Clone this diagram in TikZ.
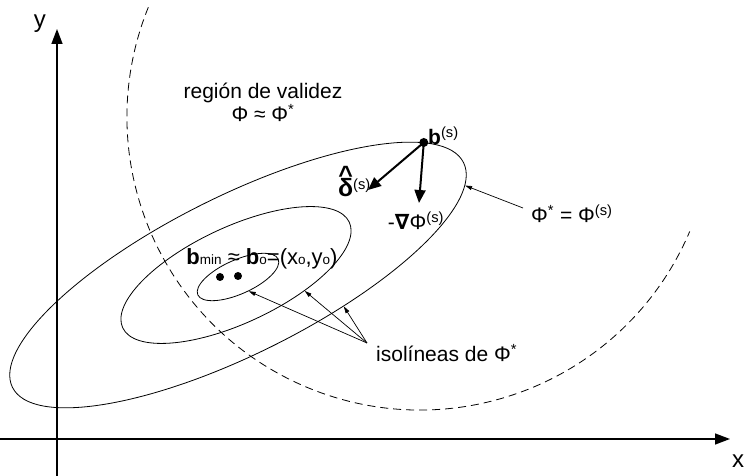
\documentclass[tikz,border=0pt]{standalone}
\usepackage{fontspec}
\setmainfont{Liberation Sans}
\newfontfamily\symfont{DejaVu Sans}
\usetikzlibrary{arrows.meta,shapes.geometric}

\tikzset{
  lbl/.style={font=\fontsize{21}{25}\selectfont, inner sep=0pt},
  axis/.style={line width=1.4pt, -{Triangle[length=15pt,width=11pt]}},
  isoline/.style={draw, ellipse, inner sep=0pt, line width=0.8pt},
  dot/.style={circle, fill, inner sep=0pt, minimum size=8pt},
  vec/.style={line width=2pt, -{Triangle[length=13pt,width=11pt]}},
  pointer/.style={line width=0.7pt, -{Triangle[length=7pt,width=4pt]}},
}
\newcommand{\sups}[1]{\textsuperscript{#1}}
\newcommand{\subo}[1]{{\fontsize{13.5}{14}\selectfont #1}}

\begin{document}
\begin{tikzpicture}[x=1pt,y=1pt]
\useasboundingbox (0,0) rectangle (745,476);
% ejes
\coordinate (y0) at (57,0); \coordinate (y1) at (57,447);
\coordinate (x0) at (0,37); \coordinate (x1) at (730,37);
\draw[axis] (y0) -- (y1);
\draw[axis] (x0) -- (x1);
\node[lbl, font=\fontsize{24}{28}\selectfont] (ylab) at (40,452) {y};
\node[lbl, font=\fontsize{24}{28}\selectfont] (xlab) at (738,15) {x};
% region de validez
\draw[dashed, dash pattern=on 8pt off 5pt, line width=0.8pt] (420,359) ++(158:293) arc[start angle=158, end angle=337, radius=293];
\node[lbl, anchor=base] (reg1) at (263,377) {región de validez};
\node[lbl, anchor=base] (reg2) at (263,354) {Φ ≈ Φ\sups{*}};
% isolineas
\node[isoline, minimum width=504pt, minimum height=158pt, rotate=26.5] (outer) at (238,201) {};
\node[isoline, minimum width=250pt, minimum height=96pt, rotate=25] (middle) at (236,201) {};
\node[isoline, minimum width=88pt, minimum height=34pt, rotate=24] (inner) at (238,199) {};
\node[dot] (bmin) at (220,199) {};
\node[dot] (bo) at (238,200) {};
\node[lbl, font=\fontsize{22}{25}\selectfont, anchor=base] (blab) at (262,211)
  {\textbf{b}\subo{min} ≈ \textbf{b}\subo{o}=(x\subo{o},y\subo{o})};
% punto actual y direcciones
\node[dot, minimum size=9pt] (bs) at (outer.9) {};
\node[lbl, anchor=base west] (bslab) at (428,331) {\textbf{b}\sups{(s)}};
\coordinate (gtip) at (419,273);
\coordinate (dtip) at (368,286);
\draw[vec] (bs.center) -- (gtip);
\draw[vec] (bs.center) -- (dtip);
\node[lbl, anchor=base] (glab) at (416,246) {-{\symfont\bfseries ∇}Φ\sups{(s)}};
\node[lbl, anchor=base east] (dlab) at (371,279)
  {{\fontsize{25}{25}\selectfont\bfseries\ooalign{\hfil\raisebox{0.55em}{\^{}}\hfil\cr δ\cr}}\sups{(s)}};
\node[lbl, anchor=base west] (philab) at (531,253) {Φ\sups{*} = Φ\sups{(s)}};
\draw[pointer] ([xshift=-8pt,yshift=15pt]philab.base west) -- (outer.-5);
% etiqueta de isolineas
\node[lbl, anchor=base west] (isolab) at (376,114) {isolíneas de Φ\sups{*}};
\coordinate (isofoot) at (367,133);
\draw[pointer] (isofoot) -- (inner.-77);
\draw[pointer] (isofoot) -- (middle.-38);
\draw[pointer] (isofoot) -- (outer.-43);
\end{tikzpicture}
\end{document}
